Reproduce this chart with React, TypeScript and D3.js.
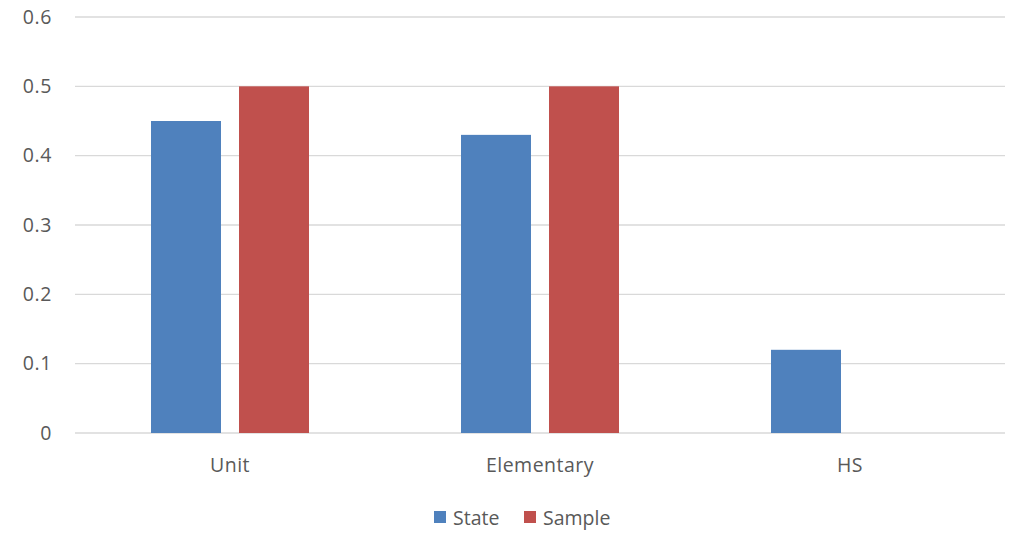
import React from "react";
import * as d3 from "d3";

const categories = ["Unit", "Elementary", "HS"];
const seriesNames = ["State", "Sample"];
const stateValues = [0.45, 0.43, 0.12];
const sampleValues = [0.5, 0.5, 0];
const yTicks = [0, 0.1, 0.2, 0.3, 0.4, 0.5, 0.6];
const colors = ["#4F81BD", "#C0504D"];

const W = 1013;
const H = 535;
const margin = { left: 75, right: 8, top: 17, bottom: 102 };
const FONT = "'Open Sans', 'Noto Sans', sans-serif";
const TEXT = "#595959";
const FS = 19.5;

export default function App() {
  const x0 = d3
    .scaleBand<string>()
    .domain(categories)
    .range([margin.left, W - margin.right]);
  const y = d3
    .scaleLinear()
    .domain([0, 0.6])
    .range([H - margin.bottom, margin.top]);
  const series = [stateValues, sampleValues];
  const barW = 70;
  const gap = 18;
  const groupW = barW * 2 + gap;

  return (
    <svg
      width={W}
      height={H}
      style={{ position: "absolute", left: 0, top: 0, background: "#fff" }}
      fontFamily={FONT}
    >
      {yTicks.map((t) => (
        <g key={t}>
          <line
            x1={margin.left}
            x2={W - margin.right}
            y1={y(t)}
            y2={y(t)}
            stroke="#D9D9D9"
            strokeWidth={1.3}
          />
          <text
            x={52}
            y={y(t)}
            dy="0.35em"
            textAnchor="end"
            fontSize={FS}
            letterSpacing={0.6}
            fill={TEXT}
          >
            {String(t)}
          </text>
        </g>
      ))}
      {categories.map((c, i) => {
        const cx = x0(c)! + x0.bandwidth() / 2;
        return (
          <g key={c}>
            {series.map((vals, s) => {
              const v = vals[i];
              if (!v) return null;
              const bx = cx - groupW / 2 + s * (barW + gap);
              return (
                <rect
                  key={s}
                  x={bx}
                  y={y(v)}
                  width={barW}
                  height={y(0) - y(v)}
                  fill={colors[s]}
                />
              );
            })}
            <text
              x={cx}
              y={472}
              textAnchor="middle"
              fontSize={FS}
              letterSpacing={0.5}
              fill={TEXT}
            >
              {c}
            </text>
          </g>
        );
      })}
      {seriesNames.map((n, s) => {
        const lx = [434, 524][s];
        return (
          <g key={n}>
            <rect x={lx} y={511} width={12} height={12} fill={colors[s]} />
            <text x={lx + 19} y={525} fontSize={FS} fill={TEXT}>
              {n}
            </text>
          </g>
        );
      })}
    </svg>
  );
}
